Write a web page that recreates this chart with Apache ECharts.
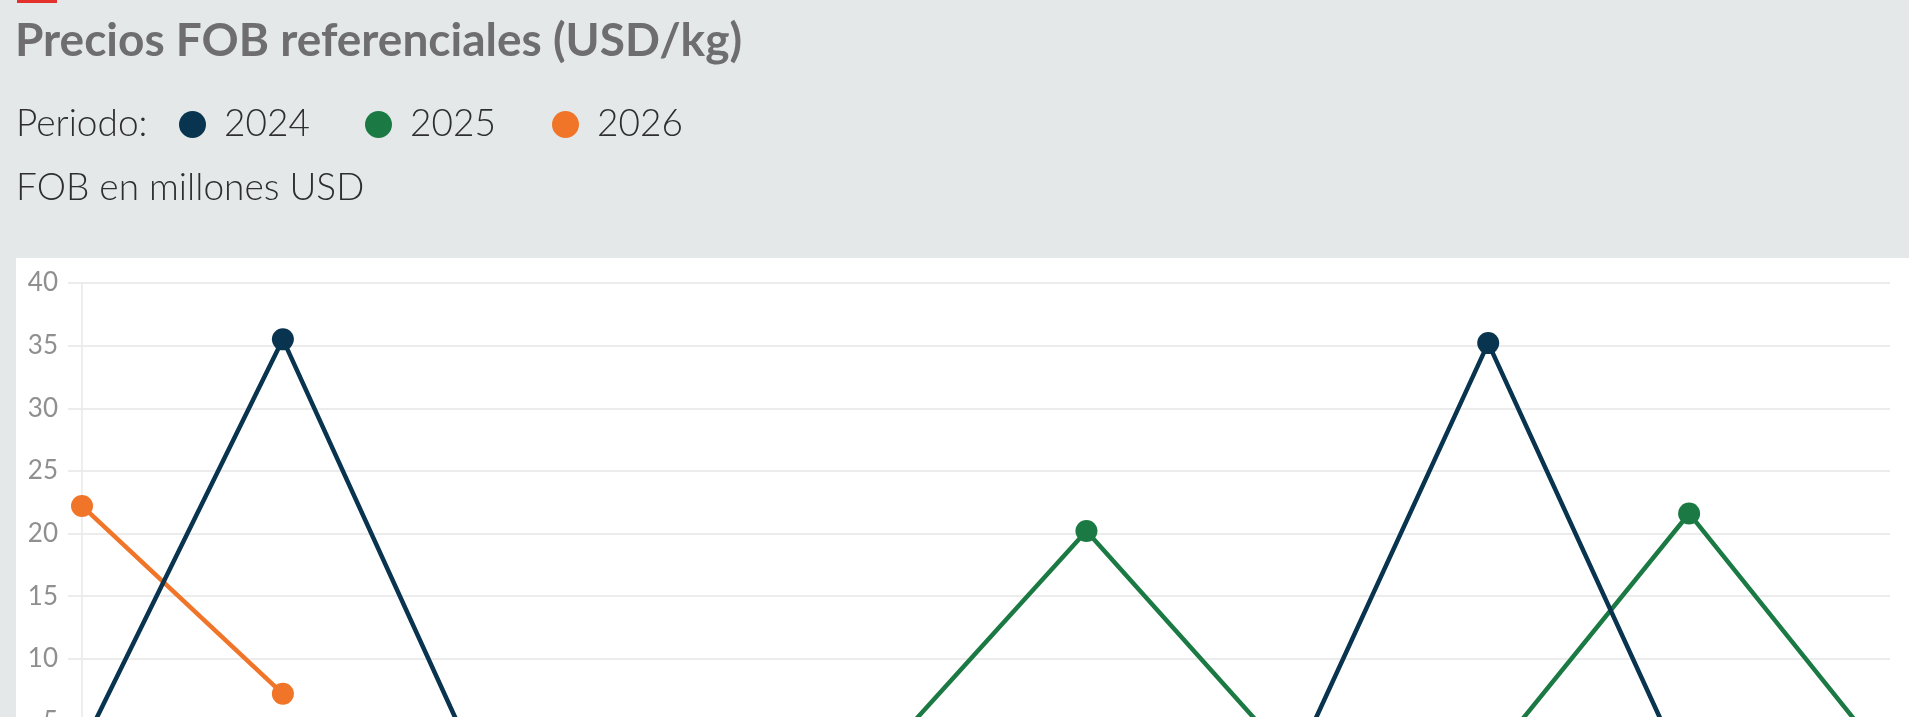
<!DOCTYPE html>
<html lang="es">
<head>
<meta charset="utf-8">
<title>Precios FOB referenciales</title>
<script src="https://cdn.jsdelivr.net/npm/echarts@6/dist/echarts.min.js"></script>
<style>
  html, body { margin: 0; padding: 0; width: 1909px; height: 717px; overflow: hidden; background: #e4e8e9; }
  #marca { position: absolute; left: 17px; top: 0; width: 40px; height: 3px; background: #e4312b; }
  #fondo { position: absolute; left: 16px; top: 258px; right: 0; height: 700px; background: #ffffff; }
  #grafico { position: absolute; left: 0; top: 0; width: 1909px; height: 900px; }
</style>
</head>
<body>
<div id="marca"></div>
<div id="fondo"></div>
<div id="grafico"></div>
<script>
// datos
const categorias = ["Ene", "Feb", "Mar", "Abr", "May", "Jun", "Jul", "Ago", "Sep", "Oct"];
const periodos = ["2024", "2025", "2026"];
const valores2024 = [2.9, 35.5, 0.3, 0.2, 0.2, 0.2, 0.3, 35.2, 0.2, 0.2];
const valores2025 = [0.2, 0.2, 0.2, 0.2, 2.5, 20.2, 2.3, 1.8, 21.6, 1.6];
const valores2026 = [22.2, 7.2];
const ticksY = [0, 5, 10, 15, 20, 25, 30, 35, 40];

const colores = {"2024": "#08344f", "2025": "#1b7a43", "2026": "#f07528"};
const fuente = "Lato, 'Open Sans', sans-serif";

let myChart = echarts.init(document.getElementById("grafico"));

function unaLeyenda(nombre, x) {
    return {
        data: [nombre],
        left: x,
        top: 106,
        padding: 0,
        icon: "circle",
        itemWidth: 27,
        itemHeight: 27,
        selectedMode: false,
        textStyle: {
            fontFamily: fuente,
            fontWeight: 300,
            fontSize: 37,
            lineHeight: 36,
            color: "#2e2e2e",
            padding: [0, 0, 0, 13]
        }
    };
}

function unaSerie(nombre, datos, z) {
    return {
        name: nombre,
        type: "line",
        data: datos,
        z: z,
        symbol: "circle",
        symbolSize: 22,
        showAllSymbol: true,
        color: colores[nombre],
        lineStyle: { width: 4.5, color: colores[nombre] },
        itemStyle: { color: colores[nombre] },
        emphasis: { disabled: true }
    };
}

let option = {
    animation: false,
    title: [
        {
            text: "Precios FOB referenciales (USD/kg)",
            left: 15,
            top: 18,
            padding: 0,
            textStyle: { fontFamily: fuente, fontWeight: "bold", fontSize: 46, lineHeight: 46, color: "#6e6e70" }
        },
        {
            text: "Periodo:",
            left: 16,
            top: 106,
            padding: 0,
            textStyle: { fontFamily: fuente, fontWeight: 300, fontSize: 37, lineHeight: 36, color: "#2e2e2e" }
        },
        {
            text: "FOB en millones USD",
            left: 16,
            top: 170,
            padding: 0,
            textStyle: { fontFamily: fuente, fontWeight: 300, fontSize: 37, lineHeight: 36, color: "#2e2e2e" }
        }
    ],
    legend: [
        unaLeyenda(periodos[0], 179),
        unaLeyenda(periodos[1], 365),
        unaLeyenda(periodos[2], 552)
    ],
    grid: {
        left: 82,
        right: 19,
        top: 283,
        bottom: 116,
        outerBoundsMode: "none"
    },
    xAxis: {
        type: "category",
        data: categorias,
        boundaryGap: false,
        axisLine: { show: false },
        axisTick: { show: false },
        axisLabel: { fontFamily: fuente, fontSize: 24, color: "#8f8f8f", margin: 20 },
        splitLine: { show: false }
    },
    yAxis: {
        type: "value",
        min: ticksY[0],
        max: ticksY[ticksY.length - 1],
        interval: ticksY[1] - ticksY[0],
        axisLine: { show: true, lineStyle: { color: "#e8e8e8", width: 1.5 } },
        axisTick: { show: true, length: 14, lineStyle: { color: "#ececec", width: 2 } },
        axisLabel: { fontFamily: fuente, fontSize: 26, color: "#8f8f8f", margin: 24 },
        splitLine: { show: true, lineStyle: { color: "#ececec", width: 2 } }
    },
    series: [
        unaSerie("2024", valores2024, 5),
        unaSerie("2025", valores2025, 4),
        unaSerie("2026", valores2026, 3)
    ]
};

myChart.setOption(option);
</script>
</body>
</html>
